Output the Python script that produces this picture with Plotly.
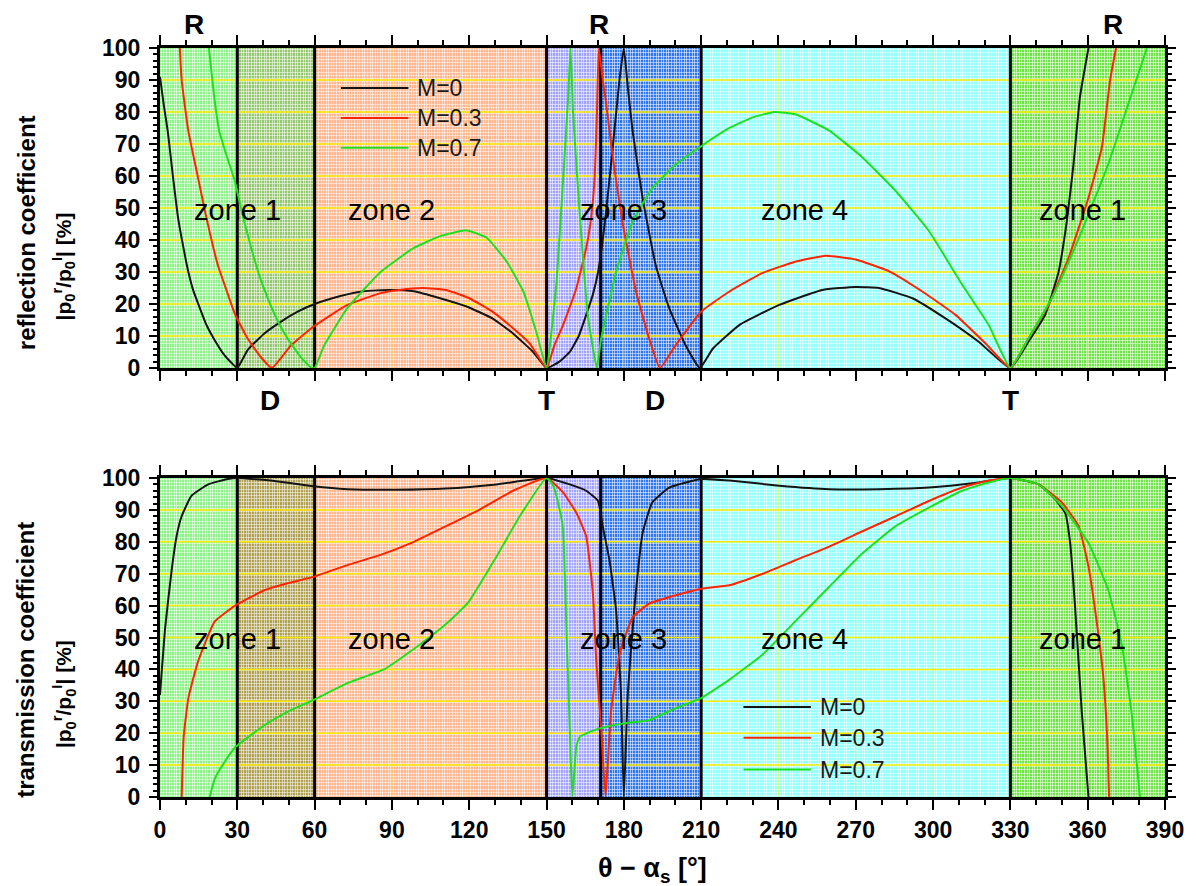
import plotly.graph_objects as go

# ---------------------------------------------------------------------------
# Angle axis, zones and labels
# ---------------------------------------------------------------------------
ZONE_EDGES = [0, 30, 60, 150, 171, 210, 330, 390]
ZONE_NAMES = ["zone 1", "zone 2", "zone 3", "zone 4", "zone 1"]
ZONE_NAME_X = [30, 90, 180, 250, 358]
ZONE_NAME_Y = 49.5
X_TICKS = list(range(0, 391, 30))
Y_TICKS = list(range(10, 100, 10))

SERIES = ["M=0", "M=0.3", "M=0.7"]

# characteristic angles: total reflection (R), zero reflection (D), total transmission (T)
ANGLES_R = [13, 170.5, 370]
ANGLES_D = [42.5, 192]
ANGLES_T = [150, 330]

# ---------------------------------------------------------------------------
# Reflection coefficient |p0r/p0i| [%]
# ---------------------------------------------------------------------------
refl_x_m0 = [0, 1.5, 3, 5, 7, 9, 11, 13, 15, 18, 21, 25, 27.5, 30, 34, 40.5, 47, 53.4, 60,
             70, 79, 89.4, 98.5, 108.7, 119, 129, 137, 144.8, 150, 155, 159, 162.5, 165.4,
             168, 170, 171.5, 173, 175.7, 178.3, 180, 181.5, 183.4, 187.3, 192.4, 197.6,
             204, 209.5, 214.5, 224.8, 240.3, 257, 270, 279, 292, 304.8, 317.7, 330, 337,
             343.5, 348.7, 351.9, 354.5, 357, 360.3]
refl_y_m0 = [91, 82, 74, 60, 47, 38, 30, 24, 19.7, 13.5, 9, 4, 1.8, 0, 5.6, 10.8, 14.5, 17.6,
             20, 22.5, 24, 24.4, 24, 21.8, 19.2, 15.5, 10.8, 5, 0, 2, 5, 10, 16.6, 23, 30, 38,
             48, 69, 90, 100, 88, 74, 53, 32, 18.7, 7, 0, 6, 13.4, 19.7, 24.4, 25.3, 25,
             21.8, 15.5, 8.2, 0, 8.2, 16.6, 30, 45.9, 63.7, 84.7, 100]

refl_x_m3 = [7.7, 8.4, 11, 14.2, 18, 22.5, 26.4, 29.2, 34, 39, 43.4, 50.8, 59.5, 72.7, 85.6,
             93, 102, 111, 120, 129, 137, 143.5, 150, 153, 156.4, 159, 161.6, 165.4, 167,
             168.6, 169.5, 170.3, 171.8, 173, 175.7, 179.6, 184.7, 189.8, 194, 200, 210, 221,
             233.9, 246.8, 258.4, 270, 283, 295.8, 308.7, 320.3, 330, 337, 344.8, 352.6,
             360.3, 365.5, 368.7, 371]
refl_y_m3 = [100, 90, 74, 61.6, 47, 32, 22.9, 16.6, 9.2, 3.5, 0, 7, 12.9, 19.7, 23.4, 24.4, 25,
             24.4, 21.8, 17.6, 12.4, 7.6, 0, 7, 13.4, 19, 25, 37.5, 45, 58.5, 78, 100, 90,
             83.6, 65.8, 45, 24, 9.2, 0, 7, 17.6, 23.9, 29.7, 33.3, 35.1, 33.9, 30.2, 23.9,
             16.6, 7.7, 0, 9.2, 19.7, 34.4, 53.2, 69, 90, 100]

refl_x_m7 = [19, 21, 23, 26, 29, 32, 35.4, 38.5, 41.8, 45.5, 49.5, 55, 58.8, 60, 63.7, 72.7,
             85.6, 98.5, 108.7, 119, 126.8, 134.5, 141, 146, 150, 152, 153.9, 156.4, 158.4,
             159.3, 160.3, 162.9, 166, 169.5, 171.2, 177, 183.4, 191, 200, 210, 221, 230,
             238.4, 246.8, 259.7, 272.6, 285.5, 298.4, 311.3, 321.6, 330, 337, 347.4, 357.7,
             368, 375.8, 383]
refl_y_m7 = [100, 85, 74, 66, 58.5, 48, 37.5, 29, 21.8, 15, 9.2, 3, 0, 0, 7, 18.7, 30, 37.5,
             41.2, 43, 40.7, 33.3, 23.9, 11.3, 0, 12, 27, 58.5, 84.7, 100, 79.5, 48, 16.6, 0,
             9.2, 30, 45.7, 56.2, 63.5, 69.3, 75, 78.3, 80, 79.2, 74.2, 65.8, 55.3, 42.8, 26,
             13.4, 0, 9.2, 23.9, 42.8, 63.7, 82.6, 100]

# ---------------------------------------------------------------------------
# Transmission coefficient [%]
# ---------------------------------------------------------------------------
trans_x_m0 = [0, 2, 4.5, 6.5, 8.4, 12.2, 18.7, 26.4, 30, 45, 59.5, 72.7, 92, 111, 130.6, 150,
              159, 165.4, 170, 171.8, 174.4, 177, 178.9, 180, 181.5, 184, 187.3, 191, 197.6,
              210, 221, 240.3, 259.7, 279, 298.4, 317.7, 330, 341, 347.4, 351.3, 353.2,
              355.2, 357.7, 360.3]
trans_y_m0 = [32, 53, 71, 82, 88, 94.4, 98, 99.7, 100, 99, 97.4, 96.5, 96.3, 96.7, 98, 100,
              98, 96, 92.8, 84.9, 74.3, 58.5, 32, 0, 32, 58.5, 82.8, 92.3, 97, 99.7, 99.2,
              97.6, 96.5, 96.5, 97, 98.6, 100, 98, 93.3, 89, 79.6, 58.5, 26.7, 0]

trans_x_m3 = [8.4, 9.2, 11, 14.8, 21.2, 29.2, 40.5, 49.5, 59.5, 72.7, 85.6, 98.5, 111, 124.2,
              137, 150, 156.4, 161.6, 165.4, 168, 169.3, 171.2, 172.9, 175, 178.3, 183.4,
              189.8, 200, 210, 221, 233.9, 246.8, 259.7, 272.6, 285.5, 298.4, 311.3, 321.6,
              330, 341, 350, 356.5, 360.3, 362.9, 366.1, 367.7, 368.3]
trans_y_m3 = [0, 19, 31, 42.6, 55, 60, 64.8, 67, 69, 72.7, 75.9, 80, 84.9, 90.2, 96, 100, 95.5,
              89, 81.7, 63.7, 42.6, 21.5, 0, 26.7, 44.7, 56.3, 60.6, 63.2, 65.3, 66.4, 70,
              74.3, 78.5, 83.3, 88, 92.8, 97, 99.2, 100, 98, 92.3, 84.9, 72.2, 58.5, 37.3,
              16.2, 0]

trans_x_m7 = [19.3, 21.2, 25, 29.2, 40.5, 49.5, 59.5, 72.7, 86.9, 101, 111, 119.7, 130.6,
              139.6, 150, 152.6, 155.1, 156.4, 157.7, 159, 160, 161.6, 163, 165.4, 170.6,
              179.6, 189.8, 200, 210, 221, 233.9, 246.8, 259.7, 272.6, 285.5, 298.4, 311.3,
              321.6, 330, 341, 350, 360.3, 368, 373.2, 377, 380.3]
trans_y_m7 = [0, 5.6, 10.9, 15.6, 22.5, 26.7, 30.4, 35.7, 40, 47.9, 54.2, 61.1, 75.4, 88, 100,
              97.6, 90, 84, 53, 21.5, 0, 16.2, 19, 19.9, 21.5, 23, 24.1, 27.8, 31, 36.8, 44.7,
              55.3, 65.9, 76.4, 84.9, 90.7, 96, 98.6, 100, 98, 91.2, 79.6, 64.8, 47.9, 26.7, 0]

# ---------------------------------------------------------------------------
# Styling
# ---------------------------------------------------------------------------
LINE_COLORS = ["#141414", "#ff2400", "#1fe01f"]
REFL_ZONE_FILL = ["#8ef088", "#96c872", "#ffb68e", "#a2a2ff", "#3478f0", "#94ffff", "#72e24a"]
TRANS_ZONE_FILL = ["#8ef088", "#b0a052", "#ffb68e", "#a2a2ff", "#3478f0", "#94ffff", "#72e24a"]
GRID_YELLOW = "rgba(255,236,0,1)"
GRID_YELLOW_X = "rgba(255,236,0,0.55)"
MESH_WHITE = "rgba(255,255,255,0.5)"
FONT = "Liberation Sans, Arial, Helvetica, sans-serif"

fig = go.Figure()

panels = [
    dict(xa="x", ya="y", mx="x3", my="y3",
         xs=[refl_x_m0, refl_x_m3, refl_x_m7], ys=[refl_y_m0, refl_y_m3, refl_y_m7],
         fills=REFL_ZONE_FILL),
    dict(xa="x2", ya="y2", mx="x4", my="y4",
         xs=[trans_x_m0, trans_x_m3, trans_x_m7], ys=[trans_y_m0, trans_y_m3, trans_y_m7],
         fills=TRANS_ZONE_FILL),
]

shapes = []
annotations = []

for p in panels:
    # coloured zone backgrounds (beneath the fine mesh)
    for i in range(len(ZONE_EDGES) - 1):
        shapes.append(dict(type="rect", xref=p["xa"], yref=p["ya"],
                           x0=ZONE_EDGES[i], x1=ZONE_EDGES[i + 1], y0=0, y1=100,
                           fillcolor=p["fills"][i], line=dict(width=0), layer="below"))
    # yellow major grid, above the mesh but under the curves
    for t in Y_TICKS:
        shapes.append(dict(type="line", xref=p["xa"], yref=p["ya"], x0=0, x1=390, y0=t, y1=t,
                           line=dict(color=GRID_YELLOW, width=1.5), layer="between"))
    for t in X_TICKS[1:-1]:
        shapes.append(dict(type="line", xref=p["xa"], yref=p["ya"], x0=t, x1=t, y0=0, y1=100,
                           line=dict(color=GRID_YELLOW_X, width=1), layer="between"))
    # zone boundaries
    for e in ZONE_EDGES[1:-1]:
        shapes.append(dict(type="line", xref=p["xa"], yref=p["ya"], x0=e, x1=e, y0=0, y1=100,
                           line=dict(color="black", width=3), layer="between"))
    # zone names
    for name, zx in zip(ZONE_NAMES, ZONE_NAME_X):
        annotations.append(dict(text=name, xref=p["xa"], yref=p["ya"], x=zx, y=ZONE_NAME_Y,
                                showarrow=False, font=dict(family=FONT, size=29, color="black")))
    # curves
    for name, color, xv, yv in zip(SERIES, LINE_COLORS, p["xs"], p["ys"]):
        fig.add_trace(go.Scatter(x=xv, y=yv, mode="lines", name=name, showlegend=False,
                                 line=dict(color=color, width=2, shape="spline", smoothing=0.4),
                                 xaxis=p["xa"], yaxis=p["ya"]))
    # empty trace that carries the fine background mesh axes
    fig.add_trace(go.Scatter(x=[None], y=[None], mode="lines", showlegend=False,
                             hoverinfo="skip", xaxis=p["mx"], yaxis=p["my"]))

# legends (long line samples + labels)
legend_specs = [("x", "y", [70.2, 96.4], 99, [87.5, 78.1, 68.8]),
                ("x2", "y2", [226.4, 252.6], 255.5, [28.2, 18.6, 8.6])]
for xa, ya, (lx0, lx1), tx, rows in legend_specs:
    for name, color, ry in zip(SERIES, LINE_COLORS, rows):
        shapes.append(dict(type="line", xref=xa, yref=ya, x0=lx0, x1=lx1, y0=ry, y1=ry,
                           line=dict(color=color, width=2), layer="above"))
        annotations.append(dict(text=name, xref=xa, yref=ya, x=tx, y=ry, xanchor="left",
                                yanchor="middle", showarrow=False,
                                font=dict(family=FONT, size=23, color="#1a1a1a")))

# characteristic-angle markers around the reflection panel
mark_font = dict(family=FONT, size=28, color="black", weight="bold")
for letters, angles, ypos in [("R", ANGLES_R, 1.032), ("D", ANGLES_D, 0.530),
                              ("T", ANGLES_T, 0.530)]:
    for a in angles:
        annotations.append(dict(text=letters, xref="x", yref="paper", x=a, y=ypos,
                                xanchor="center", yanchor="middle", showarrow=False,
                                font=mark_font))

# axis titles
title_font = dict(family=FONT, size=24, color="black", weight="bold")
for line1, ymid in [("reflection coefficient", 0.754), ("transmission coefficient", 0.183)]:
    annotations.append(dict(text=line1, xref="paper", yref="paper", x=-0.1334, y=ymid,
                            xanchor="center", yanchor="middle",
                            textangle=-90, showarrow=False, font=title_font))
    annotations.append(dict(text="|p<sub>0</sub><sup>r</sup>/p<sub>0</sub><sup>I</sup>| [%]",
                            xref="paper", yref="paper", x=-0.0958, y=ymid - 0.046,
                            xanchor="center", yanchor="middle",
                            textangle=-90, showarrow=False,
                            font=dict(family=FONT, size=21, color="black", weight="bold")))
annotations.append(dict(text="θ − α<sub>s</sub> [°]", xref="paper", yref="paper",
                        x=0.49, y=-0.097, xanchor="center", yanchor="middle",
                        showarrow=False,
                        font=dict(family=FONT, size=27, color="black", weight="bold")))

tick_font = dict(family=FONT, size=23, color="black", weight="bold")


def x_axis(show_labels, anchor):
    return dict(range=[0, 390], tick0=0, dtick=30, ticks="outside", ticklen=10, tickwidth=2,
                tickcolor="black", showticklabels=show_labels, tickfont=tick_font,
                minor=dict(dtick=10, ticks="outside", ticklen=5, tickwidth=2,
                           tickcolor="black", showgrid=False),
                showline=True, linewidth=3, linecolor="black", mirror="allticks",
                showgrid=False, zeroline=False,
                anchor=anchor, domain=[0, 1], layer="above traces")


def y_axis(domain, anchor):
    return dict(range=[0, 100], tick0=0, dtick=10, ticks="outside", ticklen=8, tickwidth=2,
                tickcolor="black", tickfont=tick_font, ticklabelstandoff=4,
                minor=dict(dtick=2, ticks="outside", ticklen=4, tickwidth=1.5,
                           tickcolor="black", showgrid=False),
                showline=True, linewidth=3, linecolor="black", mirror="allticks",
                showgrid=False, zeroline=False,
                anchor=anchor, domain=domain, layer="above traces")


def mesh_axis(over, rng, anchor):
    return dict(overlaying=over, range=rng, tick0=0.5, dtick=1, showgrid=True,
                gridcolor=MESH_WHITE, gridwidth=1, ticks="", showticklabels=False,
                showline=False, zeroline=False, anchor=anchor)


TOP_DOMAIN = [0.5728, 1.0]
BOTTOM_DOMAIN = [0.0, 0.4259]

fig.update_layout(
    width=1196, height=886,
    margin=dict(l=160, r=24, t=48, b=89),
    paper_bgcolor="white", plot_bgcolor="white",
    showlegend=False, hovermode=False,
    xaxis=x_axis(False, "y"),
    yaxis=y_axis(TOP_DOMAIN, "x"),
    xaxis2=x_axis(True, "y2"),
    yaxis2=y_axis(BOTTOM_DOMAIN, "x2"),
    xaxis3=mesh_axis("x", [0, 390], "y3"),
    yaxis3=mesh_axis("y", [0, 100], "x3"),
    xaxis4=mesh_axis("x2", [0, 390], "y4"),
    yaxis4=mesh_axis("y2", [0, 100], "x4"),
    shapes=shapes,
    annotations=annotations,
)

fig.write_html("out.html")
